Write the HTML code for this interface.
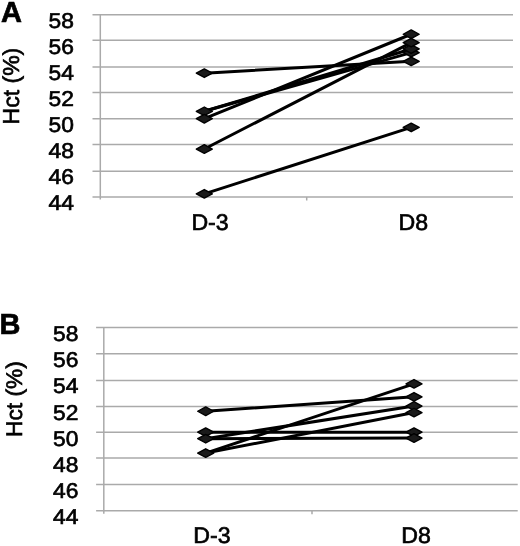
<!DOCTYPE html>
<html><head><meta charset="utf-8"><style>
html,body{margin:0;padding:0;background:#fff;width:520px;height:546px;overflow:hidden;}
svg{display:block;filter:grayscale(1);}
text{font-family:"Liberation Sans",sans-serif;fill:#000;stroke:#000;stroke-width:0.65;text-rendering:geometricPrecision;}
</style></head><body>
<svg width="520" height="546" viewBox="0 0 520 546">

<line x1="92.5" y1="14.80" x2="513" y2="14.80" class="gl"/>
<line x1="92.5" y1="40.30" x2="513" y2="40.30" class="gl"/>
<line x1="92.5" y1="66.90" x2="513" y2="66.90" class="gl"/>
<line x1="92.5" y1="92.60" x2="513" y2="92.60" class="gl"/>
<line x1="92.5" y1="118.80" x2="513" y2="118.80" class="gl"/>
<line x1="92.5" y1="144.60" x2="513" y2="144.60" class="gl"/>
<line x1="92.5" y1="171.20" x2="513" y2="171.20" class="gl"/>
<line x1="92.5" y1="197.00" x2="513" y2="197.00" class="gl"/>
<line x1="100.3" y1="14.80" x2="100.3" y2="199.5" class="gl"/>
<line x1="306.7" y1="197.00" x2="306.7" y2="200.50" class="gl"/>
<text transform="translate(73.9,27.90) scale(1.065,1)" font-size="21.4" text-anchor="end">58</text>
<text transform="translate(73.9,53.93) scale(1.065,1)" font-size="21.4" text-anchor="end">56</text>
<text transform="translate(73.9,79.96) scale(1.065,1)" font-size="21.4" text-anchor="end">54</text>
<text transform="translate(73.9,105.99) scale(1.065,1)" font-size="21.4" text-anchor="end">52</text>
<text transform="translate(73.9,132.02) scale(1.065,1)" font-size="21.4" text-anchor="end">50</text>
<text transform="translate(73.9,158.05) scale(1.065,1)" font-size="21.4" text-anchor="end">48</text>
<text transform="translate(73.9,184.08) scale(1.065,1)" font-size="21.4" text-anchor="end">46</text>
<text transform="translate(73.9,210.11) scale(1.065,1)" font-size="21.4" text-anchor="end">44</text>
<text x="0.9" y="21.8" font-size="29" font-weight="bold">A</text>
<text transform="translate(19.0,124.4) rotate(-90)" font-size="23">Hct (%)</text>
<text transform="translate(210.05,229.55) scale(1.02,1)" font-size="22.7" text-anchor="middle">D-3</text>
<text transform="translate(413.3,229.55) scale(1.02,1)" font-size="22.7" text-anchor="middle">D8</text>
<line x1="204.3" y1="73.17" x2="411.2" y2="61.32" class="dl"/>
<line x1="204.3" y1="111.30" x2="411.2" y2="52.60" class="dl"/>
<line x1="204.3" y1="111.30" x2="411.2" y2="48.96" class="dl"/>
<line x1="204.3" y1="118.72" x2="411.2" y2="34.25" class="dl"/>
<line x1="204.3" y1="149.04" x2="411.2" y2="42.58" class="dl"/>
<line x1="204.3" y1="193.82" x2="411.2" y2="127.44" class="dl"/>
<path d="M196.30 73.17L204.30 68.87L212.30 73.17L204.30 77.47Z" class="mk"/>
<path d="M403.20 61.32L411.20 57.02L419.20 61.32L411.20 65.62Z" class="mk"/>
<path d="M196.30 111.30L204.30 107.00L212.30 111.30L204.30 115.60Z" class="mk"/>
<path d="M403.20 52.60L411.20 48.30L419.20 52.60L411.20 56.90Z" class="mk"/>
<path d="M403.20 48.96L411.20 44.66L419.20 48.96L411.20 53.26Z" class="mk"/>
<path d="M196.30 118.72L204.30 114.42L212.30 118.72L204.30 123.02Z" class="mk"/>
<path d="M403.20 34.25L411.20 29.95L419.20 34.25L411.20 38.55Z" class="mk"/>
<path d="M196.30 149.04L204.30 144.74L212.30 149.04L204.30 153.34Z" class="mk"/>
<path d="M403.20 42.58L411.20 38.28L419.20 42.58L411.20 46.88Z" class="mk"/>
<path d="M196.30 193.82L204.30 189.52L212.30 193.82L204.30 198.12Z" class="mk"/>
<path d="M403.20 127.44L411.20 123.14L419.20 127.44L411.20 131.74Z" class="mk"/>
<line x1="96.1" y1="327.60" x2="517.7" y2="327.60" class="gl"/>
<line x1="96.1" y1="353.80" x2="517.7" y2="353.80" class="gl"/>
<line x1="96.1" y1="380.60" x2="517.7" y2="380.60" class="gl"/>
<line x1="96.1" y1="406.40" x2="517.7" y2="406.40" class="gl"/>
<line x1="96.1" y1="432.20" x2="517.7" y2="432.20" class="gl"/>
<line x1="96.1" y1="457.90" x2="517.7" y2="457.90" class="gl"/>
<line x1="96.1" y1="484.60" x2="517.7" y2="484.60" class="gl"/>
<line x1="96.1" y1="510.70" x2="517.7" y2="510.70" class="gl"/>
<line x1="103.8" y1="327.60" x2="103.8" y2="513.7" class="gl"/>
<line x1="312.0" y1="510.70" x2="312.0" y2="514.20" class="gl"/>
<text transform="translate(78.3,341.10) scale(1.065,1)" font-size="21.4" text-anchor="end">58</text>
<text transform="translate(78.3,367.24) scale(1.065,1)" font-size="21.4" text-anchor="end">56</text>
<text transform="translate(78.3,393.38) scale(1.065,1)" font-size="21.4" text-anchor="end">54</text>
<text transform="translate(78.3,419.52) scale(1.065,1)" font-size="21.4" text-anchor="end">52</text>
<text transform="translate(78.3,445.66) scale(1.065,1)" font-size="21.4" text-anchor="end">50</text>
<text transform="translate(78.3,471.80) scale(1.065,1)" font-size="21.4" text-anchor="end">48</text>
<text transform="translate(78.3,497.94) scale(1.065,1)" font-size="21.4" text-anchor="end">46</text>
<text transform="translate(78.3,524.08) scale(1.065,1)" font-size="21.4" text-anchor="end">44</text>
<text x="-0.6" y="334.4" font-size="29" font-weight="bold">B</text>
<text transform="translate(22.3,436.9) rotate(-90)" font-size="22.7">Hct (%)</text>
<text transform="translate(212.0,543.1) scale(1.02,1)" font-size="22.7" text-anchor="middle">D-3</text>
<text transform="translate(416.0,543.1) scale(1.02,1)" font-size="22.7" text-anchor="middle">D8</text>
<line x1="205.7" y1="411.25" x2="414.0" y2="396.87" class="dl"/>
<line x1="205.7" y1="432.16" x2="414.0" y2="432.16" class="dl"/>
<line x1="205.7" y1="438.70" x2="414.0" y2="438.04" class="dl"/>
<line x1="205.7" y1="438.70" x2="414.0" y2="406.02" class="dl"/>
<line x1="205.7" y1="453.07" x2="414.0" y2="383.80" class="dl"/>
<line x1="205.7" y1="453.07" x2="414.0" y2="412.56" class="dl"/>
<path d="M197.70 411.25L205.70 406.95L213.70 411.25L205.70 415.55Z" class="mk"/>
<path d="M406.00 396.87L414.00 392.57L422.00 396.87L414.00 401.17Z" class="mk"/>
<path d="M197.70 432.16L205.70 427.86L213.70 432.16L205.70 436.46Z" class="mk"/>
<path d="M406.00 432.16L414.00 427.86L422.00 432.16L414.00 436.46Z" class="mk"/>
<path d="M197.70 438.70L205.70 434.40L213.70 438.70L205.70 443.00Z" class="mk"/>
<path d="M406.00 438.04L414.00 433.74L422.00 438.04L414.00 442.34Z" class="mk"/>
<path d="M406.00 406.02L414.00 401.72L422.00 406.02L414.00 410.32Z" class="mk"/>
<path d="M197.70 453.07L205.70 448.77L213.70 453.07L205.70 457.37Z" class="mk"/>
<path d="M406.00 383.80L414.00 379.50L422.00 383.80L414.00 388.10Z" class="mk"/>
<path d="M406.00 412.56L414.00 408.25L422.00 412.56L414.00 416.86Z" class="mk"/>

<style>
.gl{stroke:#aaaaaa;stroke-width:1.5;}
.dl{stroke:#000;stroke-width:3;stroke-linecap:round;}
.mk{fill:#1a1a1a;stroke:#000;stroke-width:1.4;stroke-linejoin:round;}
</style>
</svg>
</body></html>
